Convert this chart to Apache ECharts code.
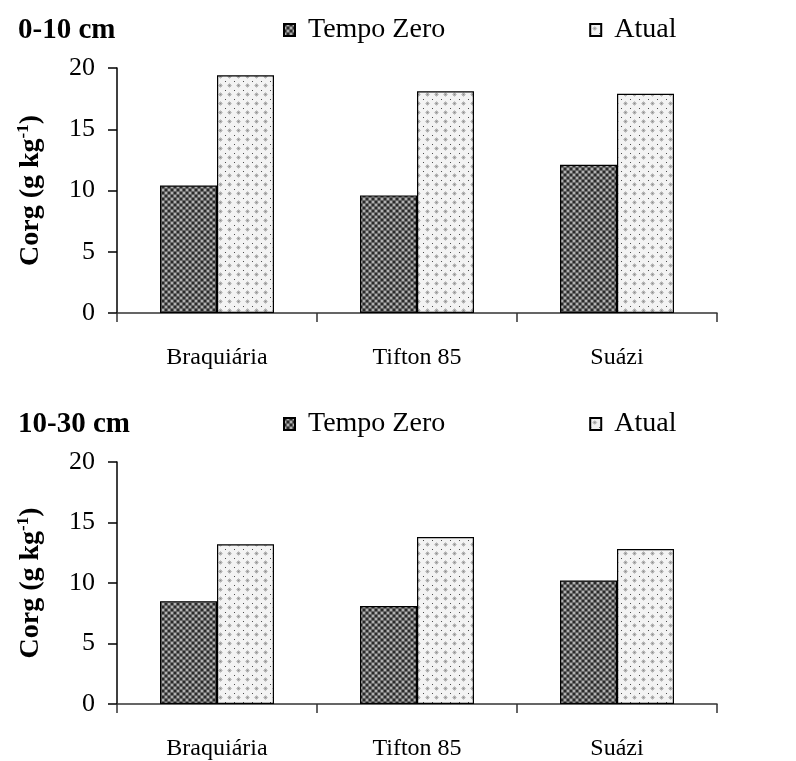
<!DOCTYPE html>
<html>
<head>
<meta charset="utf-8">
<script src="https://cdn.jsdelivr.net/npm/echarts@6/dist/echarts.min.js"></script>
<style>
  html, body { margin: 0; padding: 0; background: #ffffff; }
  #chart { width: 796px; height: 761px; }
</style>
</head>
<body>
<div id="chart"></div>
<script>
// Soil organic carbon (Corg) under three pastures, two depths
const categories = ['Braquiária', 'Tifton 85', 'Suázi'];
const seriesNames = ['Tempo Zero', 'Atual'];
const panelTitles = ['0-10 cm', '10-30 cm'];
const tempoZero0to10 = [10.4, 9.6, 12.1];
const atual0to10 = [19.4, 18.1, 17.9];
const tempoZero10to30 = [8.5, 8.1, 10.2];
const atual10to30 = [13.2, 13.8, 12.8];
const yMin = 0, yMax = 20, yStep = 5;

const FONT = '"Liberation Serif", "Times New Roman", serif';

// Fill patterns for the two series
function makePattern(size, draw) {
  const c = document.createElement('canvas');
  c.width = size; c.height = size;
  const g = c.getContext('2d');
  draw(g);
  return c;
}
const darkTile = makePattern(6, g => {
  g.fillStyle = '#666666'; g.fillRect(0, 0, 6, 6);
  g.fillStyle = '#2a2a2a'; g.fillRect(0, 0, 2, 2); g.fillRect(3, 3, 2, 2);
  g.fillStyle = '#b0b0b0'; g.fillRect(3, 0, 2, 2); g.fillRect(0, 3, 2, 2);
});
const lightTile = makePattern(9, g => {
  g.fillStyle = '#f3f3f3'; g.fillRect(0, 0, 9, 9);
  g.fillStyle = '#b6b6b6';
  g.fillRect(3, 4, 3, 1); g.fillRect(4, 3, 1, 3);
  g.fillRect(3, 3, 1, 1); g.fillRect(5, 3, 1, 1); g.fillRect(3, 5, 1, 1); g.fillRect(5, 5, 1, 1);
  g.fillStyle = '#cccccc';
  g.fillRect(2, 4, 1, 1); g.fillRect(6, 4, 1, 1); g.fillRect(4, 2, 1, 1); g.fillRect(4, 6, 1, 1);
  g.fillStyle = '#4a4a4a'; g.fillRect(0, 0, 1, 1);
  g.fillStyle = '#8a8a8a'; g.fillRect(4, 4, 1, 1);
});
const darkFill = { image: darkTile, repeat: 'repeat' };
const lightFill = { image: lightTile, repeat: 'repeat' };

const gridTops = [68, 462];
const gridHeight = 245;
const panelOffset = gridTops[1] - gridTops[0];

function yAxisFor(i) {
  return {
    type: 'value', gridIndex: i, min: yMin, max: yMax, interval: yStep,
    name: '{b|Corg (g kg}{s|-1}{b|)}',
    nameLocation: 'middle', nameGap: 70,
    nameTextStyle: {
      rich: {
        b: { fontFamily: FONT, fontWeight: 'bold', fontSize: 28, color: '#000', lineHeight: 32 },
        s: { fontFamily: FONT, fontWeight: 'bold', fontSize: 17, color: '#000', verticalAlign: 'top', lineHeight: 32 }
      }
    },
    axisLine: { show: true, lineStyle: { color: '#000', width: 1.5 } },
    axisTick: { show: true, inside: false, length: 9, lineStyle: { color: '#000', width: 1.5 } },
    splitLine: { show: false },
    axisLabel: { fontFamily: FONT, fontSize: 26, color: '#000', margin: 22 }
  };
}
function xAxisFor(i) {
  return {
    type: 'category', gridIndex: i, data: categories, boundaryGap: true,
    axisLine: { show: true, lineStyle: { color: '#333', width: 1.5 } },
    axisTick: { show: true, inside: false, length: 9, lineStyle: { color: '#333', width: 1.5 } },
    axisLabel: { fontFamily: FONT, fontSize: 24, color: '#000', margin: 33 }
  };
}
function barSeries(name, data, fill, i) {
  return {
    name: name, type: 'bar', xAxisIndex: i, yAxisIndex: i, data: data,
    barWidth: 57, barGap: '0%',
    itemStyle: { color: fill, borderColor: '#000', borderWidth: 1.2 },
    emphasis: { disabled: true }, animation: false
  };
}
function legendFor(top) {
  return {
    left: 278, top: top, itemWidth: 11, itemHeight: 12, itemGap: 144,
    icon: 'rect',
    data: seriesNames.map(n => ({ name: n })),
    textStyle: { fontFamily: FONT, fontSize: 28, color: '#000', padding: [0, 0, 0, 8] },
    selectedMode: false
  };
}

const option = {
  animation: false,
  backgroundColor: '#ffffff',
  title: panelTitles.map((t, i) => ({
    text: t, left: 13, top: 11 + i * panelOffset,
    textStyle: { fontFamily: FONT, fontWeight: 'bold', fontSize: 29, color: '#000' }
  })),
  legend: [legendFor(11), legendFor(11 + panelOffset)],
  grid: gridTops.map(t => ({ left: 117, width: 600, top: t, height: gridHeight })),
  xAxis: [xAxisFor(0), xAxisFor(1)],
  yAxis: [yAxisFor(0), yAxisFor(1)],
  series: [
    barSeries(seriesNames[0], tempoZero0to10, darkFill, 0),
    barSeries(seriesNames[1], atual0to10, lightFill, 0),
    barSeries(seriesNames[0], tempoZero10to30, darkFill, 1),
    barSeries(seriesNames[1], atual10to30, lightFill, 1)
  ]
};

const chart = echarts.init(document.getElementById('chart'), null, { renderer: 'canvas' });
chart.setOption(option);
</script>
</body>
</html>
